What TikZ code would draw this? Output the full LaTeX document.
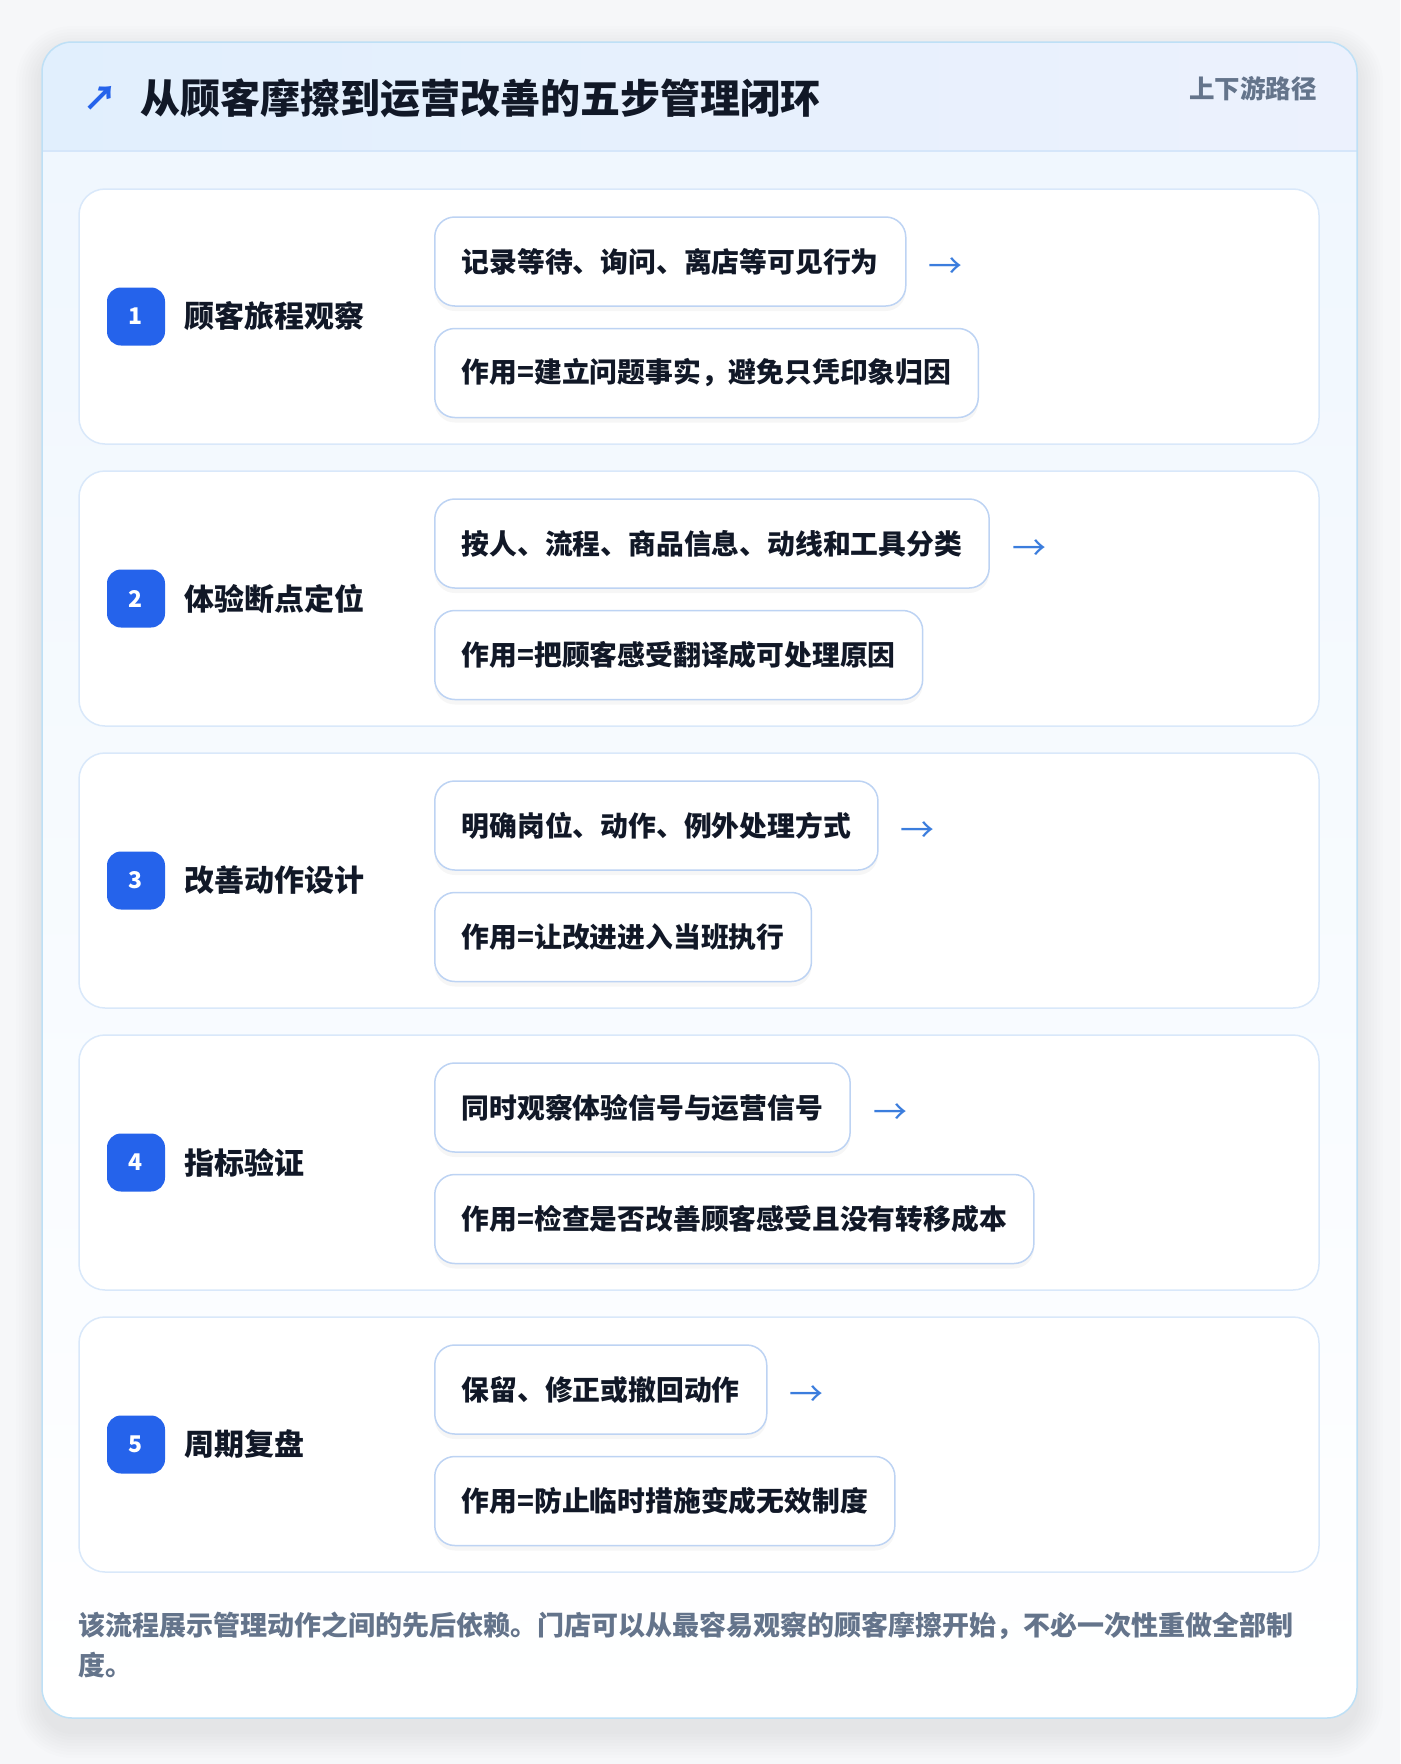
\documentclass[tikz,border=0pt]{standalone}
\usepackage{fontspec}
\setmainfont{Noto Sans CJK SC}
\usetikzlibrary{positioning,shadows}
\definecolor{pagebg}{HTML}{F6F7F9}
\definecolor{cardline}{HTML}{BEE0F6}
\definecolor{headleft}{HTML}{E1EFFD}
\definecolor{headright}{HTML}{ECF1FD}
\definecolor{headrule}{HTML}{D5E6FA}
\definecolor{bodytop}{HTML}{F0F7FE}
\definecolor{stepline}{HTML}{D9E8FA}
\definecolor{boxline}{HTML}{BDD3F3}
\definecolor{badgeblue}{HTML}{2563EB}
\definecolor{ink}{HTML}{111827}
\definecolor{muted}{HTML}{64748B}
\definecolor{arrowblue}{HTML}{3B7DDD}
\tikzset{
  stepcard/.style={draw=stepline, line width=1.5pt, fill=white, rounded corners=26pt,
    minimum width=1240pt, minimum height=255pt, inner sep=0pt},
  badge/.style={fill=badgeblue, rounded corners=14pt, minimum size=58pt, inner sep=0pt,
    text=white, font=\fontsize{23}{26}\selectfont\bfseries},
  steplabel/.style={inner sep=0pt, text=ink, font=\fontsize{30}{36}\selectfont\bfseries},
  actbox/.style={draw=boxline, line width=1.5pt, fill=white, rounded corners=20pt,
    minimum height=89pt, inner xsep=27pt, inner ysep=0pt, text=ink,
    font=\fontsize{27.8}{32}\selectfont\bfseries,
    drop shadow={shadow xshift=0pt, shadow yshift=-5pt, opacity=0.035, fill=black}},
  arrowmark/.style={inner sep=0pt, text=arrowblue, font=\fontsize{34}{36}\selectfont}
}
\begin{document}
\begin{tikzpicture}[x=1pt,y=-1pt]
\useasboundingbox (0,0) rectangle (1400,1764);
\fill[pagebg] (0,0) rectangle (1400,1764);
\foreach \s in {2,5,...,26}
  \fill[black, opacity=0.008, rounded corners=30pt+\s pt] (42-\s,52-\s) rectangle (1357+\s,1732+\s);
\begin{scope}
\clip[rounded corners=30pt] (42,42) rectangle (1357,1718);
\shade[left color=headleft, right color=headright] (42,42) rectangle (1357,151);
\shade[top color=bodytop, bottom color=white] (42,151) rectangle (1357,1718);
\draw[headrule, line width=1.5pt] (42,151) -- (1357,151);
\end{scope}
\draw[cardline, line width=1.5pt, rounded corners=30pt] (42,42) rectangle (1357,1718);

\node[anchor=west, inner sep=0pt, text=ink, font=\fontsize{40}{48}\selectfont\bfseries] (title) at (140,98) {从顾客摩擦到运营改善的五步管理闭环};
\node[left=22pt of title, inner sep=0pt, text=badgeblue, font=\fontsize{34}{36}\selectfont\bfseries] (icon) {↗};
\node[anchor=east, inner sep=0pt, text=muted, font=\fontsize{25.5}{30}\selectfont\bfseries] (tag) at (1317,89) {上下游路径};

\node[stepcard] (step1) at (699,316.5) {};
\node[badge] (badge1) at (136,316.5) {1};
\node[steplabel, right=19pt of badge1] (label1) {顾客旅程观察};
\node[actbox, anchor=west] (act1) at (434,261.5) {记录等待、询问、离店等可见行为};
\node[actbox, anchor=north west] (use1) at ([yshift=-21pt]act1.south west) {作用=建立问题事实，避免只凭印象归因};
\node[arrowmark, right=22pt of act1, yshift=-7pt] (arr1) {→};

\node[stepcard] (step2) at (699,598.5) {};
\node[badge] (badge2) at (136,598.5) {2};
\node[steplabel, right=19pt of badge2] (label2) {体验断点定位};
\node[actbox, anchor=west] (act2) at (434,543.5) {按人、流程、商品信息、动线和工具分类};
\node[actbox, anchor=north west] (use2) at ([yshift=-21pt]act2.south west) {作用=把顾客感受翻译成可处理原因};
\node[arrowmark, right=22pt of act2, yshift=-7pt] (arr2) {→};

\node[stepcard] (step3) at (699,880.5) {};
\node[badge] (badge3) at (136,880.5) {3};
\node[steplabel, right=19pt of badge3] (label3) {改善动作设计};
\node[actbox, anchor=west] (act3) at (434,825.5) {明确岗位、动作、例外处理方式};
\node[actbox, anchor=north west] (use3) at ([yshift=-21pt]act3.south west) {作用=让改进进入当班执行};
\node[arrowmark, right=22pt of act3, yshift=-7pt] (arr3) {→};

\node[stepcard] (step4) at (699,1162.5) {};
\node[badge] (badge4) at (136,1162.5) {4};
\node[steplabel, right=19pt of badge4] (label4) {指标验证};
\node[actbox, anchor=west] (act4) at (434,1107.5) {同时观察体验信号与运营信号};
\node[actbox, anchor=north west] (use4) at ([yshift=-21pt]act4.south west) {作用=检查是否改善顾客感受且没有转移成本};
\node[arrowmark, right=22pt of act4, yshift=-7pt] (arr4) {→};

\node[stepcard] (step5) at (699,1444.5) {};
\node[badge] (badge5) at (136,1444.5) {5};
\node[steplabel, right=19pt of badge5] (label5) {周期复盘};
\node[actbox, anchor=west] (act5) at (434,1389.5) {保留、修正或撤回动作};
\node[actbox, anchor=north west] (use5) at ([yshift=-21pt]act5.south west) {作用=防止临时措施变成无效制度};
\node[arrowmark, right=22pt of act5, yshift=-7pt] (arr5) {→};

\node[anchor=north west, inner sep=0pt, align=left, text=muted, font=\fontsize{27}{40}\selectfont\bfseries] (note) at (78,1612) {该流程展示管理动作之间的先后依赖。门店可以从最容易观察的顾客摩擦开始，不必一次性重做全部制\\度。};
\end{tikzpicture}
\end{document}
